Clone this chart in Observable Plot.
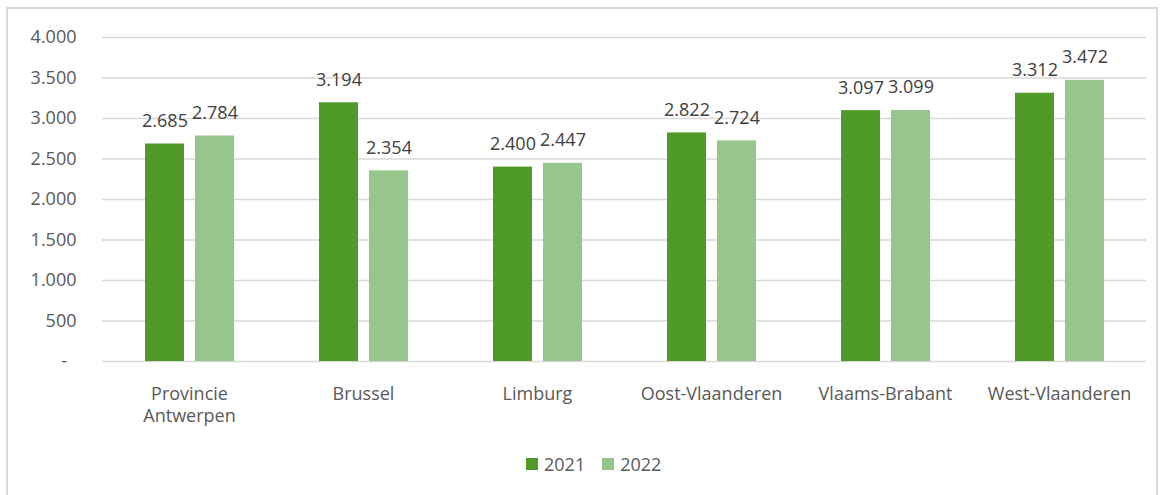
<!DOCTYPE html>
<html>
<head>
<meta charset="utf-8">
<script src="https://cdn.jsdelivr.net/npm/d3@7"></script>
<script src="https://cdn.jsdelivr.net/npm/@observablehq/plot@0.6"></script>
<style>
  html, body { margin: 0; padding: 0; background: #fff; width: 1167px; height: 495px; overflow: hidden; }
  #frame { position: absolute; left: 6px; top: 7px; width: 1152px; height: 520px; border: 2px solid #d9d9d9; box-sizing: border-box; }
  #chart { position: absolute; left: 0; top: 0; }
  #legend { position: absolute; left: 526px; top: 452px; font-family: "Open Sans", sans-serif; font-size: 18px; line-height: 24px; color: #595959; display: flex; align-items: center; }
  .sw { display: inline-block; width: 12px; height: 12px; margin-right: 6px; }
  .item { display: flex; align-items: center; margin-right: 17px; }
</style>
</head>
<body>
<div id="frame"></div>
<div id="chart"></div>
<div id="legend"></div>
<script>
const regions = ["Provincie Antwerpen", "Brussel", "Limburg", "Oost-Vlaanderen", "Vlaams-Brabant", "West-Vlaanderen"];
const regionLabels = ["Provincie\nAntwerpen", "Brussel", "Limburg", "Oost-Vlaanderen", "Vlaams-Brabant", "West-Vlaanderen"];
const years = ["2021", "2022"];
const values2021 = [2685, 3194, 2400, 2822, 3097, 3312];
const values2022 = [2784, 2354, 2447, 2724, 3099, 3472];
const yTicks = [0, 500, 1000, 1500, 2000, 2500, 3000, 3500, 4000];
const colors = ["#4f9a29", "#97c68a"];

const data = [];
regions.forEach((r, i) => {
  data.push({region: r, year: years[0], value: values2021[i]});
  data.push({region: r, year: years[1], value: values2022[i]});
});

const fmt = v => d3.format(",")(v).replace(/,/g, ".");
const tickFmt = v => v === 0 ? "-\u00a0\u00a0" : fmt(v);
const labelMap = new Map(regions.map((r, i) => [r, regionLabels[i]]));

const chart = Plot.plot({
  width: 1167,
  height: 440,
  marginLeft: 102,
  marginRight: 21,
  marginTop: 37,
  marginBottom: 79,
  style: {fontFamily: "'Open Sans', sans-serif", fontSize: "18px", color: "#595959", background: "transparent"},
  fx: {domain: regions, padding: 0, label: null},
  x: {domain: years, paddingInner: 0.22, paddingOuter: 0.85, axis: null},
  y: {domain: [0, 4000], label: null},
  color: {domain: years, range: colors},
  marks: [
    Plot.gridY(yTicks, {stroke: "#d9d9d9", strokeOpacity: 1, strokeWidth: 1.5, facetAnchor: null}),
    Plot.axisY(yTicks, {tickSize: 0, tickPadding: 26, tickFormat: tickFmt, fill: "#595959", fontSize: 18, label: null}),
    Plot.axisFx({anchor: "bottom", tickSize: 0, tickPadding: 23, tickFormat: d => labelMap.get(d), lineHeight: 1.22, fill: "#595959", fontSize: 18, label: null}),
    Plot.barY(data, {fx: "region", x: "year", y: "value", fill: "year"}),
    Plot.text(data, {fx: "region", x: "year", y: "value", text: d => fmt(d.value), lineAnchor: "bottom", dy: -17, fill: "#404040", fontSize: 18})
  ]
});
document.getElementById("chart").appendChild(chart);

const legend = document.getElementById("legend");
years.forEach((y, i) => {
  const item = document.createElement("div");
  item.className = "item";
  item.innerHTML = `<span class="sw" style="background:${colors[i]}"></span><span>${y}</span>`;
  legend.appendChild(item);
});
</script>
</body>
</html>
